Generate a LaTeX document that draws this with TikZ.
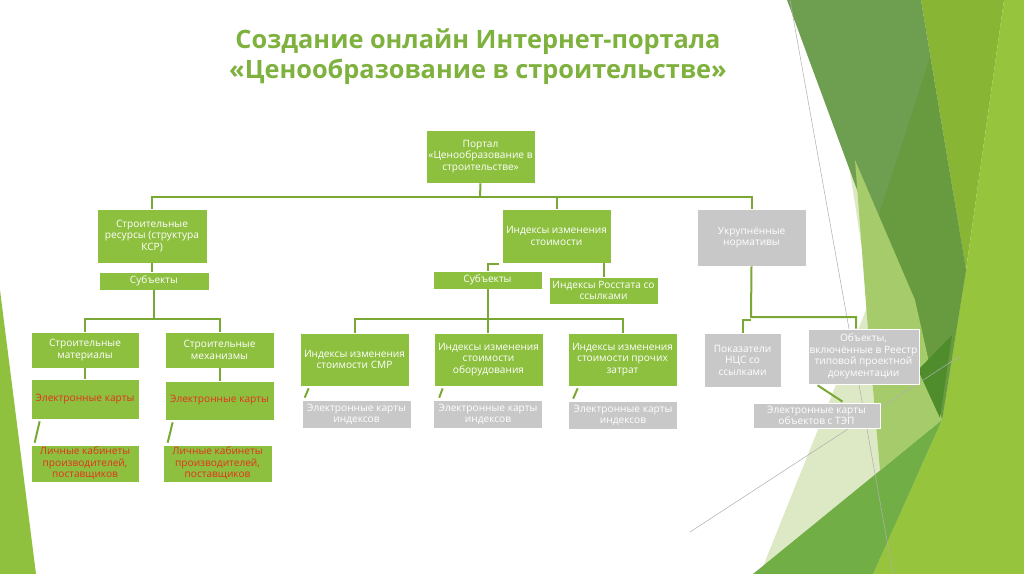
\documentclass[tikz,border=0pt]{standalone}
\usepackage{fontspec}
\setmainfont{Open Sans}
\usepackage{tikz}
\usetikzlibrary{positioning, calc}

\definecolor{boxgreen}{RGB}{141,192,63}
\definecolor{boxgrey}{RGB}{200,200,200}
\definecolor{linegreen}{RGB}{122,168,52}
\definecolor{redtext}{RGB}{227,50,27}
\definecolor{titlegreen}{RGB}{126,177,61}
\definecolor{facetleft}{RGB}{143,193,63}
\definecolor{facetpale}{RGB}{221,232,196}
\definecolor{facetolive}{RGB}{136,181,51}
\definecolor{facetbright}{RGB}{150,196,60}
\definecolor{facetdark}{RGB}{110,158,79}
\definecolor{facetdeep}{RGB}{104,155,64}
\definecolor{facetdarkest}{RGB}{79,140,44}
\definecolor{facetmid}{RGB}{114,174,70}
\definecolor{facetmidlight}{RGB}{166,203,106}
\definecolor{facetline}{RGB}{176,176,176}

\newcommand{\boxfont}{\fontsize{7.6}{8.6}\selectfont}
\newcommand{\headfont}{\fontsize{19}{22.5}\selectfont\bfseries}

\begin{document}
\begin{tikzpicture}[x=0.75pt,y=0.75pt,yscale=-1,xscale=1,
	gbox/.style={fill=boxgreen, draw=white, line width=0.5pt, text=white, font=\boxfont, align=center, inner sep=1pt, minimum width=81.75pt},
	grbox/.style={gbox, fill=boxgrey},
	redtxt/.style={text=redtext},
	link/.style={draw=linegreen, line width=1.5pt},
	headline/.style={text=titlegreen, font=\headfont, align=center, inner sep=0pt}]
	\useasboundingbox (0,0) rectangle (1024,574);
	
	%Shape: Left Facet
	\fill [facetleft] (0,290) -- (36,574) -- (0,574) -- cycle;
	%Shape: Right Facets
	\fill [facetpale] (845,140) -- (870,300) -- (760,574) -- (900,574) -- (930,420) -- (880,200) -- cycle;
	\fill [facetolive] (921,0) -- (1004,0) -- (966,270) -- cycle;
	\fill [facetbright] (1004,0) -- (1024,0) -- (1024,574) -- (873,574) -- (942,420) -- (966,270) -- cycle;
	\fill [facetdark] (787,0) -- (921,0) -- (966,270) -- (942,420) -- cycle;
	\fill [facetdeep] (930,57) -- (966,270) -- (942,420) -- (872,237) -- cycle;
	\fill [facetmidlight] (855,160) -- (915,300) -- (942,420) -- (880,470) -- (868,330) -- cycle;
	\fill [facetmid] (753,574) -- (942,420) -- (873,574) -- cycle;
	\fill [facetdarkest] (952,335) -- (918,370) -- (940,418) -- cycle;
	%Straight Lines
	\draw [facetline, line width=0.4pt] (790,0) -- (893,574);
	\draw [facetline, line width=0.4pt] (690,532) -- (960,356);
	
	% Text Node
	\node [headline] (head) at (478,57) {Создание онлайн Интернет-портала\\«Ценообразование в строительстве»};
	
	%Shape: Rectangle (top)
	\node [gbox, minimum height=39.75pt] (portal) at (480.5,156.5) {Портал\\«Ценообразование в\\строительстве»};
	%Shape: Rectangle (left branch)
	\node [gbox, minimum width=82.5pt, minimum height=40.5pt] (resources) at (152,236) {Строительные\\ресурсы (структура\\КСР)};
	\node [gbox, minimum width=82.5pt, minimum height=13.5pt] (subjL) at (154,281) {Субъекты};
	\node [gbox, minimum width=81pt, minimum height=27pt] (materials) at (85,350) {Строительные\\материалы};
	\node [gbox, minimum height=27pt] (machines) at (219.5,350) {Строительные\\механизмы};
	\node [gbox, redtxt, minimum width=81pt, minimum height=30pt] (cardsL) at (85,399) {Электронные карты};
	\node [gbox, redtxt, minimum height=29.25pt] (cardsR) at (219.5,400.5) {Электронные карты};
	\node [gbox, redtxt, minimum width=81pt, minimum height=27.75pt] (cabinetL) at (85,463.5) {Личные кабинеты\\производителей,\\поставщиков};
	\node [gbox, redtxt, minimum height=27.75pt] (cabinetR) at (217.5,463.5) {Личные кабинеты\\производителей,\\поставщиков};
	%Shape: Rectangle (middle branch)
	\node [gbox, minimum height=40.5pt] (index) at (556.5,236) {Индексы изменения\\стоимости};
	\node [gbox, minimum height=13.5pt] (subjM) at (487.5,280) {Субъекты};
	\node [gbox, minimum height=20.25pt] (rosstat) at (603.5,290.5) {Индексы Росстата со\\ссылками};
	\node [gbox, minimum height=39.75pt] (smr) at (354.5,359.5) {Индексы изменения\\стоимости СМР};
	\node [gbox, minimum height=39.75pt] (equip) at (488.5,359.5) {Индексы изменения\\стоимости\\оборудования};
	\node [gbox, minimum height=39.75pt] (other) at (622.5,359.5) {Индексы изменения\\стоимости прочих\\затрат};
	\node [grbox, minimum height=21pt] (cardsA) at (356.5,414) {Электронные карты\\индексов};
	\node [grbox, minimum height=21pt] (cardsB) at (488,414) {Электронные карты\\индексов};
	\node [grbox, minimum height=21pt] (cardsC) at (623,415) {Электронные карты\\индексов};
	%Shape: Rectangle (right branch)
	\node [grbox, minimum height=42.75pt] (enlarged) at (751.5,237.5) {Укрупнённые\\нормативы};
	\node [grbox, minimum width=57.75pt, minimum height=40.5pt] (ncs) at (742.5,360) {Показатели\\НЦС со\\ссылками};
	\node [grbox, minimum width=83.25pt, minimum height=41.25pt] (objects) at (863.5,356.5) {Объекты,\\включённые в Реестр\\типовой проектной\\документации};
	\node [grbox, minimum width=95.25pt, minimum height=18.75pt, inner sep=0.5pt] (cardsTEP) at (816.5,415.5) {Электронные карты\\объектов с ТЭП};
	
	%Straight Lines (top level)
	\coordinate (busTop) at (480,197);
	\draw [link] (portal.south) -- (busTop);
	\draw [link] (resources.north) |- (busTop) -| (enlarged.north);
	\draw [link] (index.north) -- (index.north |- busTop);
	%Straight Lines (left branch)
	\draw [link] (resources.south) -- (resources.south |- subjL.north);
	\coordinate (busLeft) at (154,319);
	\draw [link] (subjL.south) -- (busLeft);
	\draw [link] (materials.north) |- (busLeft) -| (machines.north);
	\draw [link] (materials.south) -- (cardsL.north);
	\draw [link] (machines.south) -- (cardsR.north);
	\draw [link] ($(cardsL.south west)+(9,2)$) -- ($(cabinetL.north west)+(4,-2)$);
	\draw [link] ($(cardsR.south west)+(8,2)$) -- ($(cabinetR.north west)+(5,-2)$);
	%Straight Lines (middle branch)
	\draw [link] ($(index.south west)+(-3,1)$) -| (subjM.north);
	\draw [link] (rosstat.north) -- (rosstat.north |- index.south);
	\coordinate (busMid) at (488,319);
	\draw [link] (subjM.south) -- (subjM.south |- equip.north);
	\draw [link] (smr.north) |- (busMid) -| (other.north);
	\draw [link] ($(smr.south west)+(9,2)$) -- ($(cardsA.north west)+(3,-2)$);
	\draw [link] ($(equip.south west)+(9,2)$) -- ($(cardsB.north west)+(6,-2)$);
	\draw [link] ($(other.south west)+(10,2)$) -- ($(cardsC.north west)+(5,-2)$);
	%Straight Lines (right branch)
	\coordinate (busRight) at (751,317);
	\coordinate (busRight2) at (751,320);
	\draw [link] (enlarged.south) -- (busRight) -| ($(objects.north)+(-7.5,0)$);
	\draw [link] (busRight2) -| (ncs.north);
	\draw [link] ($(objects.south west)+(10,1)$) -- ($(cardsTEP.north)+(26,-1)$);
\end{tikzpicture}
\end{document}
